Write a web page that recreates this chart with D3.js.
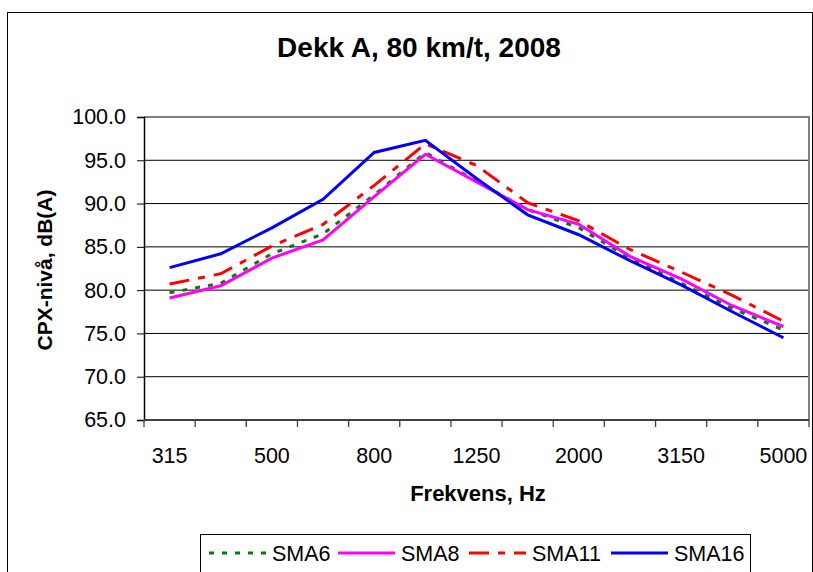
<!DOCTYPE html>
<html>
<head>
<meta charset="utf-8">
<script src="https://cdn.jsdelivr.net/npm/d3@7"></script>
<style>
	body { margin: 0; background: #fff; }
	svg { font-family: 'Liberation Sans', Arial, sans-serif; }
	.tick-label { font-size: 21.5px; fill: #000; }
	.axis-title { font-size: 22px; font-weight: bold; }
	.legend-text { font-size: 21.5px; }
</style>
</head>
<body>
<svg id="chart-svg" width="813" height="572"></svg>
<script>
const FREQUENCIES = ['315', '400', '500', '630', '800', '1000', '1250', '1600', '2000', '2500', '3150', '4000', '5000'];
const SMA6 = [79.7, 80.8, 84.2, 86.5, 91.0, 95.9, 92.6, 89.3, 87.2, 83.7, 80.8, 77.9, 75.4];
const SMA8 = [79.1, 80.5, 83.7, 85.8, 90.8, 95.7, 92.5, 89.3, 87.6, 83.9, 81.3, 78.2, 75.8];
const SMA11 = [80.7, 81.9, 85.1, 87.6, 92.1, 96.9, 94.4, 90.1, 88.0, 84.7, 82.1, 79.4, 76.4];
const SMA16 = [82.6, 84.2, 87.2, 90.5, 95.9, 97.3, 92.9, 88.7, 86.4, 83.4, 80.6, 77.5, 74.5];
const Y_TICKS = [65, 70, 75, 80, 85, 90, 95, 100];

const PLOT = { left: 144, right: 809, top: 117, bottom: 420 };

const SERIES = [
	{ name: 'SMA6', values: SMA6, color: '#008000', dash: '5,8' },
	{ name: 'SMA8', values: SMA8, color: '#ff00ff', dash: null },
	{ name: 'SMA11', values: SMA11, color: '#ff0000', dash: '20,9,7,9' },
	{ name: 'SMA16', values: SMA16, color: '#0000ff', dash: null }
];

const svg = d3.select('#chart-svg');

// outer chart frame
svg.append('rect')
	.attr('x', 7.5).attr('y', 12.5)
	.attr('width', 805).attr('height', 600)
	.attr('fill', 'none').attr('stroke', '#000');

const xScale = d3.scaleBand().domain(FREQUENCIES).range([ PLOT.left, PLOT.right ]).padding(0);
const yScale = d3.scaleLinear().domain([ 65, 100 ]).range([ PLOT.bottom, PLOT.top ]);
const xMid = (d) => xScale(d) + xScale.bandwidth() / 2;

// gridlines
svg.append('g')
	.selectAll('line')
	.data(Y_TICKS.filter((v) => v > 65 && v < 100))
	.enter()
	.append('line')
	.attr('x1', PLOT.left).attr('x2', PLOT.right)
	.attr('y1', (d) => yScale(d)).attr('y2', (d) => yScale(d))
	.attr('stroke', '#000').attr('stroke-width', 1);

// plot border (top/right gray)
svg.append('path')
	.attr('d', `M${PLOT.left},${PLOT.top}H${PLOT.right}V${PLOT.bottom}`)
	.attr('fill', 'none').attr('stroke', '#808080').attr('stroke-width', 2);

// y axis
const yAxis = d3.axisLeft(yScale).tickValues(Y_TICKS).tickSize(7).tickPadding(11).tickFormat(d3.format('.1f'));
const yG = svg.append('g').attr('transform', `translate(${PLOT.left},0)`).call(yAxis);
yG.select('.domain').attr('stroke', '#000').attr('stroke-width', 1.5);
yG.selectAll('.tick text').attr('class', 'tick-label').attr('font-family', null).attr('font-size', null);

// x axis: labels on every other category, ticks between categories
const xAxis = d3.axisBottom(xScale).tickValues(FREQUENCIES.filter((d, i) => i % 2 == 0)).tickSize(0).tickPadding(0);
const xG = svg.append('g').attr('transform', `translate(0,${PLOT.bottom})`).call(xAxis);
xG.select('.domain').remove();
xG.selectAll('.tick text').attr('class', 'tick-label').attr('font-family', null).attr('font-size', null)
	.attr('dy', null).attr('y', 43);
svg.append('g')
	.selectAll('line')
	.data(FREQUENCIES.map((d) => xScale(d)).concat([ PLOT.right ]))
	.enter()
	.append('line')
	.attr('x1', (d) => d).attr('x2', (d) => d)
	.attr('y1', PLOT.bottom).attr('y2', PLOT.bottom + 7)
	.attr('stroke', '#404040').attr('stroke-width', 1.3);
svg.append('line')
	.attr('x1', PLOT.left).attr('x2', PLOT.right)
	.attr('y1', PLOT.bottom).attr('y2', PLOT.bottom)
	.attr('stroke', '#404040').attr('stroke-width', 2);

// series lines
const line = d3.line().x((d, i) => xMid(FREQUENCIES[i])).y((d) => yScale(d));
svg.append('g')
	.selectAll('path')
	.data(SERIES)
	.enter()
	.append('path')
	.attr('d', (s) => line(s.values))
	.attr('fill', 'none')
	.attr('stroke', (s) => s.color)
	.attr('stroke-width', 3)
	.attr('stroke-dasharray', (s) => s.dash);

// titles
svg.append('text')
	.attr('x', 419).attr('y', 57)
	.attr('text-anchor', 'middle')
	.attr('font-size', 28).attr('font-weight', 'bold')
	.text('Dekk A, 80 km/t, 2008');
svg.append('text')
	.attr('class', 'axis-title')
	.attr('x', 478).attr('y', 501)
	.attr('text-anchor', 'middle')
	.text('Frekvens, Hz');
svg.append('text')
	.attr('class', 'axis-title')
	.attr('font-size', 21)
	.attr('transform', 'translate(52,270) rotate(-90)')
	.attr('text-anchor', 'middle')
	.style('font-size', '21px')
	.text('CPX-nivå, dB(A)');

// legend
const LEGEND_X = [ 209, 338, 469, 611 ];
const legendG = svg.append('g');
legendG.append('rect')
	.attr('x', 200.5).attr('y', 534.5)
	.attr('width', 550).attr('height', 60)
	.attr('fill', '#fff').attr('stroke', '#000');
const items = legendG.selectAll('g.item')
	.data(SERIES)
	.enter()
	.append('g')
	.attr('class', 'item')
	.attr('transform', (d, i) => `translate(${LEGEND_X[i]},553)`);
items.append('line')
	.attr('x1', 0).attr('x2', 57)
	.attr('stroke', (s) => s.color)
	.attr('stroke-width', 3)
	.attr('stroke-dasharray', (s) => s.dash);
items.append('text')
	.attr('class', 'legend-text')
	.attr('x', 63).attr('y', 7.5)
	.text((s) => s.name);
</script>
</body>
</html>
